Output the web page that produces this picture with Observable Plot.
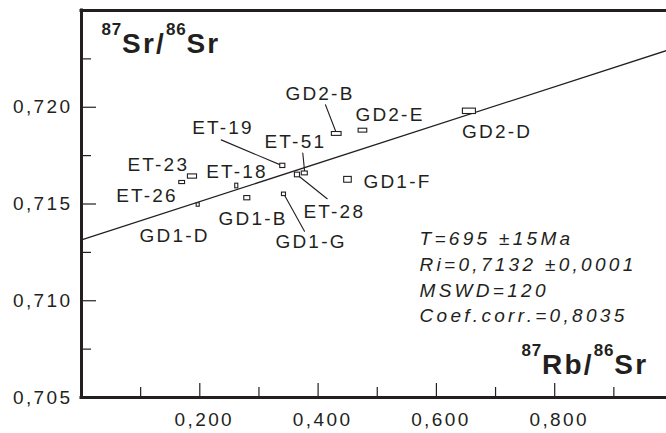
<!DOCTYPE html>
<html><head><meta charset="utf-8">
<script src="https://cdn.jsdelivr.net/npm/d3@7"></script>
<script src="https://cdn.jsdelivr.net/npm/@observablehq/plot@0.6"></script>
<style>
html,body{margin:0;padding:0;background:#fff;}
#chart svg{display:block;}
g[aria-label="y-axis tick label"] text, g[aria-label="x-axis tick label"] text{letter-spacing:2.4px;}
</style></head><body><div id="chart"></div>
<script>
// ---- data ----
const samples = ["ET-23","ET-26","ET-18","GD1-D","GD1-B","GD1-G","ET-19","ET-28","ET-51","GD1-F","GD2-B","GD2-E","GD2-D"];
const rbSr    = [0.1876,0.1702,0.2625,0.1973,0.2803,0.3423,0.3403,0.3651,0.3775,0.4505,0.4315,0.4758,0.6558];
const srSr    = [0.71642,0.71611,0.71593,0.71495,0.71530,0.71550,0.71697,0.71650,0.71658,0.71625,0.71862,0.71879,0.71979];
const rbSrErr = [0.0077,0.0049,0.0026,0.0026,0.0051,0.0034,0.0043,0.0043,0.0051,0.0064,0.0082,0.0073,0.0110];
const srSrErr = [0.00011,0.00008,0.00012,0.00009,0.00011,0.00009,0.00011,0.00012,0.00010,0.00015,0.00010,0.00010,0.00014];
const isochronX = [0, 0.989];
const isochronY = [0.71315, 0.72293];
const xMajor = [0.2,0.4,0.6,0.8];
const xMinor = [0.1,0.3,0.5,0.7,0.9];
const yMajor = [0.705,0.710,0.715,0.720];
const yMinor = [0.7075,0.7125,0.7175,0.7225];
const xTickLabels = ["0,200","0,400","0,600","0,800"];
const yTickLabels = ["0,705","0,710","0,715","0,720"];
const yTitle = "87Sr/86Sr";
const xTitle = "87Rb/86Sr";
const statsLines = ["T=695 ±15Ma","Ri=0,7132 ±0,0001","MSWD=120","Coef.corr.=0,8035"];

// ---- layout (pixel offsets of labels / leader lines from each box) ----
const labelOffset = {
  "ET-23":[-65,-12], "ET-26":[-66,13.5], "ET-18":[-30.6,-14.5], "GD1-D":[-58.7,31],
  "GD1-B":[-28.8,20.3], "GD1-G":[-8.5,47.2], "ET-19":[-90.6,-38.3], "ET-28":[6,36.5],
  "ET-51":[-40.3,-31.3], "GD1-F":[15.5,1.7], "GD2-B":[-51.3,-40], "GD2-E":[-7.5,-15.7], "GD2-D":[-7.3,20.2]
};
const leaderOffset = {
  "GD1-G":[20.5,36.9], "ET-19":[-61.6,-26], "ET-28":[29.7,23.8], "ET-51":[-2,-20.3], "GD2-B":[-11.3,-29.2]
};

const ink = "#231f20";
const idx = samples.map((_, i) => i);
const leaderIdx = idx.filter(i => leaderOffset[samples[i]]);
const lineShape = {draw(context, l) { context.moveTo(0, 0); context.lineTo(0, -l); }};

const chart = Plot.plot({
  width: 666, height: 433,
  marginLeft: 81, marginRight: 0, marginTop: 10, marginBottom: 36,
  x: {domain: [0, 0.989]},
  y: {domain: [0.705, 0.725]},
  length: {type: "identity"},
  style: {fontFamily: "'Liberation Sans', Arial, sans-serif", color: ink, background: "#fff"},
  marks: [
    // ticks (inward)
    Plot.axisY(yMajor, {anchor: "left", tickSize: -15, fill: "none", stroke: ink, strokeWidth: 1.2}),
    Plot.axisY(yMinor, {anchor: "left", tickSize: -10, fill: "none", stroke: ink, strokeWidth: 1.2}),
    Plot.axisX(xMajor, {anchor: "bottom", tickSize: -14, fill: "none", stroke: ink, strokeWidth: 1.2}),
    Plot.axisX(xMinor, {anchor: "bottom", tickSize: -10, fill: "none", stroke: ink, strokeWidth: 1.2}),
    // tick labels
    Plot.axisY(yMajor, {anchor: "left", tickSize: 0, tickPadding: 9, fontSize: 19, label: null,
      tickFormat: d => yTickLabels[yMajor.indexOf(d)]}),
    Plot.axisX(xMajor, {anchor: "bottom", tickSize: 0, tickPadding: 15, fontSize: 19, label: null, dx: 4.5,
      tickFormat: d => xTickLabels[xMajor.indexOf(d)]}),
    // frame
    Plot.ruleX([0], {stroke: ink, strokeWidth: 3, strokeLinecap: "square"}),
    Plot.ruleY([0.705], {stroke: ink, strokeWidth: 3, strokeLinecap: "square"}),
    Plot.ruleY([0.725], {stroke: ink, strokeWidth: 3, strokeLinecap: "square"}),
    // isochron
    Plot.line(isochronX.map((_, i) => i), {x: i => isochronX[i], y: i => isochronY[i], stroke: ink, strokeWidth: 1.3}),
    // leader lines
    Plot.vector(leaderIdx, {
      x: i => rbSr[i], y: i => srSr[i], anchor: "start", shape: lineShape, stroke: ink, strokeWidth: 1.1,
      length: i => Math.hypot(...leaderOffset[samples[i]]),
      rotate: i => { const [a, b] = leaderOffset[samples[i]]; return Math.atan2(a, -b) * 180 / Math.PI; }
    }),
    // sample boxes
    Plot.rect(idx, {
      x1: i => rbSr[i] - rbSrErr[i], x2: i => rbSr[i] + rbSrErr[i],
      y1: i => srSr[i] - srSrErr[i], y2: i => srSr[i] + srSrErr[i],
      fill: "#fff", stroke: ink, strokeWidth: 1.1
    }),
    // sample labels
    ...idx.map(i => Plot.text([i], {
      x: j => rbSr[j], y: j => srSr[j], text: j => samples[j],
      dx: labelOffset[samples[i]][0], dy: labelOffset[samples[i]][1],
      textAnchor: "start", fontSize: 19, fill: ink
    })),
    // statistics
    Plot.text([statsLines.join("\n")], {
      frameAnchor: "top-left", dx: 338, dy: 216.2, lineAnchor: "top", lineHeight: 1.358,
      textAnchor: "start", fontSize: 19, fontStyle: "italic", fill: ink
    }),
    // axis titles
    Plot.text([yTitle], {frameAnchor: "top-left", dx: 20, dy: 42.7, lineAnchor: "bottom", textAnchor: "start",
      fontSize: 28, fontWeight: "bold", fill: ink}),
    Plot.text([xTitle], {frameAnchor: "bottom-left", dx: 440, dy: -23.7, lineAnchor: "bottom", textAnchor: "start",
      fontSize: 28, fontWeight: "bold", fill: ink})
  ]
});

// superscript isotope mass numbers
const titleTexts = Array.from(chart.querySelectorAll("text"))
  .filter(t => t.textContent === yTitle || t.textContent === xTitle);
titleTexts.forEach(t => {
  const parts = t.textContent.split(/(\d+)/).filter(p => p.length);
  t.textContent = "";
  t.style.letterSpacing = "2.2px";
  let raised = false;
  const shift = 17.8;
  parts.forEach(p => {
    const ts = document.createElementNS("http://www.w3.org/2000/svg", "tspan");
    const sup = /^\d+$/.test(p);
    ts.textContent = p;
    if (sup) {
      ts.setAttribute("font-size", 17);
      ts.style.letterSpacing = "0.8px";
      if (!raised) { ts.setAttribute("dy", -shift); raised = true; }
    } else if (raised) {
      ts.setAttribute("dy", shift); raised = false;
    }
    t.appendChild(ts);
  });
});
// letter spacing for sample labels and stats
chart.querySelectorAll("text").forEach(t => {
  if (samples.includes(t.textContent)) t.style.letterSpacing = "2.2px";
});
chart.querySelectorAll("tspan").forEach(t => {
  if (statsLines.includes(t.textContent)) t.parentNode.style.letterSpacing = "3.3px";
});

document.getElementById("chart").appendChild(chart);
</script>
</body></html>
